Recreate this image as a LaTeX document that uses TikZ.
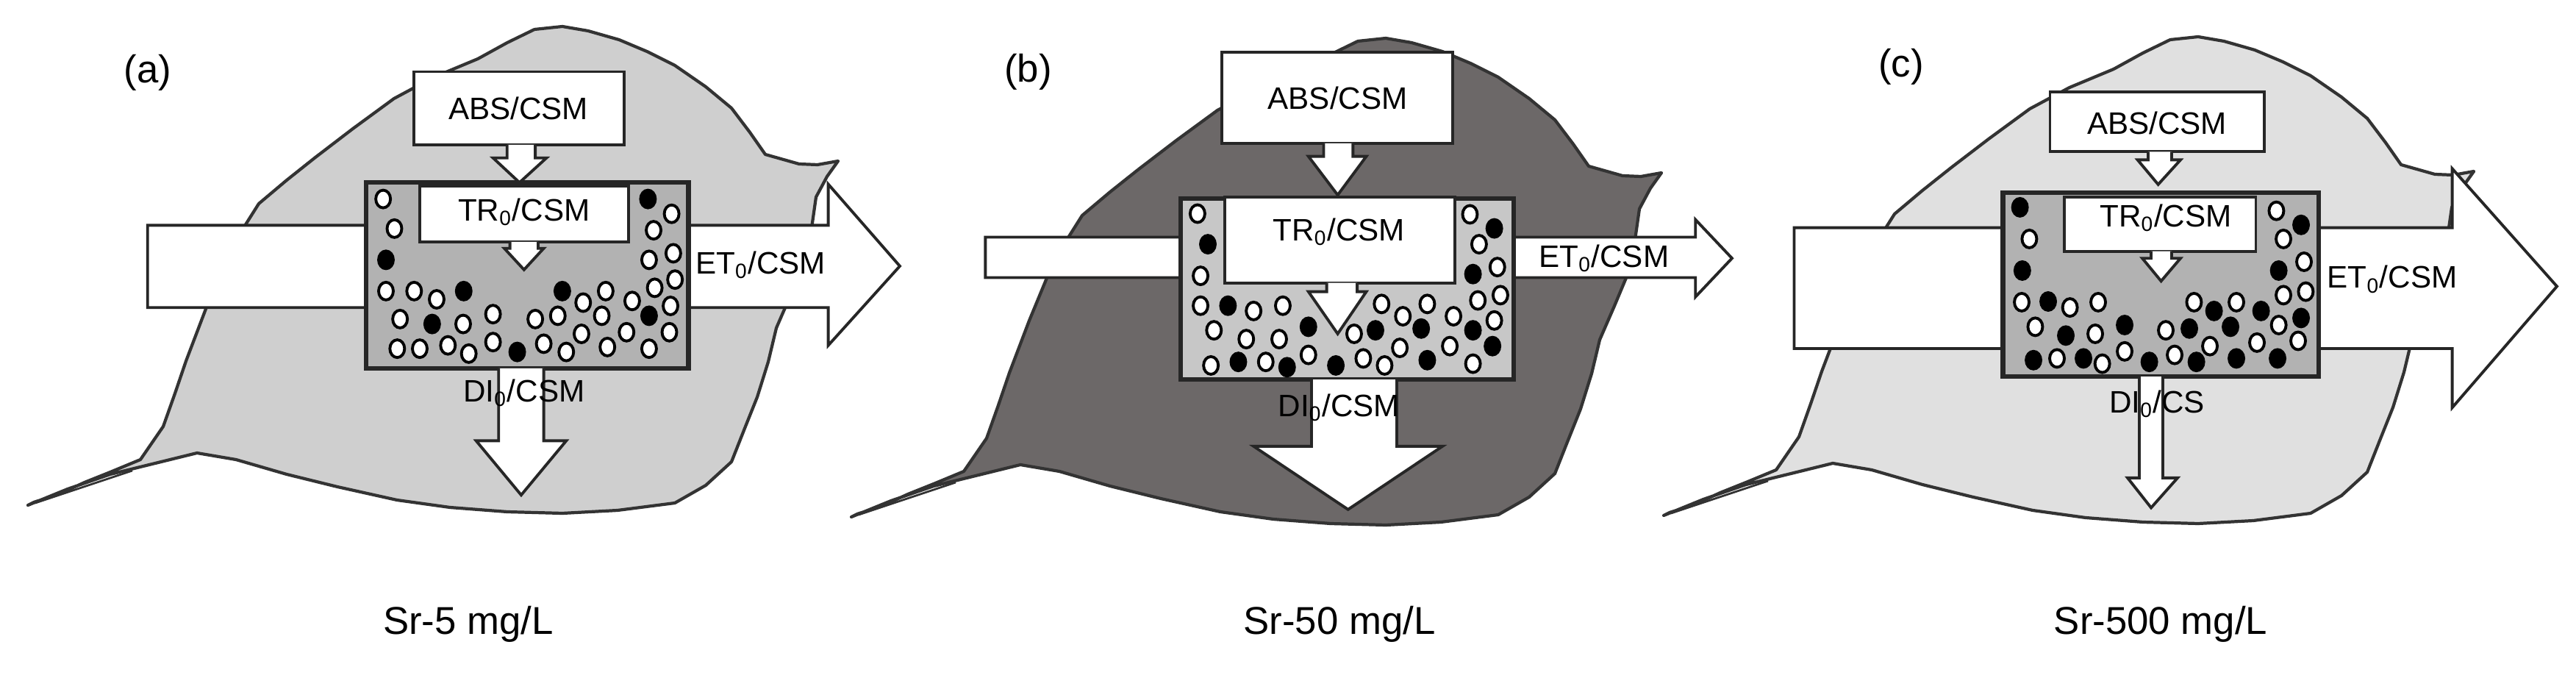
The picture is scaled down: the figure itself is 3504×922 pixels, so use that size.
\documentclass[tikz,border=0pt]{standalone}
\usepackage{fontspec}
\setmainfont{Liberation Sans}
\definecolor{leafdark}{RGB}{108,104,104}
\begin{document}
\begin{tikzpicture}[x=0.01cm,y=-0.01cm,
  leafline/.style={draw=black!80,line width=1.2pt,line join=round},
  blk/.style={draw=black!85,line width=1.1pt,fill=white,line join=miter},
  mbox/.style={draw=black!85,line width=1.8pt},
  odot/.style={draw=black,fill=white,line width=1.1pt},
  fdot/.style={draw=black,fill=black,line width=1.1pt},
  lab/.style={font=\fontsize{12}{14}\selectfont,inner sep=0pt},
  big/.style={font=\fontsize{15}{17}\selectfont,inner sep=0pt},
  pics/leaf/.style={code={
    \draw[leafline,fill=#1] (38,687)--(92,665)--(150,645)--(268,616)--(321,625)--(390,645)--(459,662)--(540,680)--(612,690)--(690,696)--(765,698)--(840,694)--(918,684)--(960,660)--(995,628)--(1012,585)--(1030,540)--(1045,492)--(1056,446)--(1076,400)--(1094,357)--(1104,310)--(1110,268)--(1125,240)--(1140,219)--(1112,224)--(1087,223)--(1041,210)--(1020,180)--(995,147)--(960,118)--(918,89)--(880,70)--(842,54)--(800,42)--(765,36)--(727,40)--(690,58)--(650,80)--(590,105)--(536,134)--(480,175)--(429,214)--(390,245)--(352,277)--(328,315)--(306,357)--(280,420)--(253,491)--(238,535)--(222,580)--(191,625)--(150,642)--(115,656)--(80,672)--(46,683)--cycle;
    \draw[leafline,line width=0.8pt] (48,684)--(120,660)--(180,640);
  }}]
\useasboundingbox (0,0) rectangle (3504,922);

\pic at (0,0) {leaf=black!19};
\pic at (1120,16) {leaf=leafdark};
\pic at (2225,14) {leaf=black!12};

% ---------- panel (a)
\begin{scope}[x=0.007653cm,y=-0.004464cm]
\draw[blk] (262,685)--(1470,685)--(1470,560)--(1597,809)--(1470,1050)--(1470,935)--(262,935)--cycle;
\draw[mbox,fill=black!30] (650,555) rectangle (1222,1120);
\foreach \a/\b in {680/605,700/695,685/885,735/885,775/910,710/970,822/985,875/955,705/1060,745/1060,795/1050,832/1075,875/1040,950/970,990/960,965/1045,1005/1070,1035/920,1075/885,1068/960,1032/1015,1078/1055,1112/1010,1122/915,1152/1060,1160/700,1192/650,1152/790,1195/770,1162/875,1198/850,1190/930,1188/1010}
  \draw[odot] (\a,\b) ellipse [x radius=0.1cm,y radius=0.12cm];
\foreach \a/\b in {1150/605,685/790,823/885,767/985,998/885,918/1070,1152/960}
  \draw[fdot] (\a,\b) ellipse [x radius=0.1cm,y radius=0.12cm];
\draw[blk] (735,218) rectangle (1108,440);
\draw[blk] (900,440)--(900,480)--(875,480)--(922,555)--(970,480)--(950,480)--(950,440);
\draw[blk] (745,565) rectangle (1115,735);
\draw[blk] (905,735)--(905,755)--(895,755)--(930,820)--(965,755)--(955,755)--(955,735);
\draw[blk] (885,1120)--(885,1340)--(845,1340)--(925,1505)--(1005,1340)--(965,1340)--(965,1120);
\node[lab] (absa) at (920,330) {ABS/CSM};
\node[lab] (tra) at (930,645) {TR\textsubscript{0}/CSM};
\node[lab] (eta) at (1350,805) {ET\textsubscript{0}/CSM};
\node[lab] (dia) at (930,1195) {DI\textsubscript{0}/CSM};
\node[big] (la) at (262,220) {(a)};
\end{scope}

% ---------- panel (b)
\begin{scope}[shift={(1100,0)},x=0.00829cm,y=-0.004783cm]
\draw[blk] (290,675)--(1455,675)--(1455,625)--(1515,735)--(1455,845)--(1455,790)--(290,790)--cycle;
\draw[mbox,fill=black!22] (610,565) rectangle (1157,1080);
\foreach \a/\b in {638/608,643/785,643/870,730/885,778/870,665/940,718/965,772/965,660/1040,750/1030,820/1010,910/1020,945/1040,895/950,940/865,975/900,1015/865,970/990,1058/900,1052/985,1090/1035,1085/610,1100/695,1130/760,1098/855,1135/840,1125/912}
  \draw[odot] (\a,\b) ellipse [x radius=0.1cm,y radius=0.12cm];
\foreach \a/\b in {655/695,688/870,820/930,705/1030,785/1045,865/1040,930/940,1005/935,1015/1025,1090/940,1125/650,1090/780,1122/985}
  \draw[fdot] (\a,\b) ellipse [x radius=0.1cm,y radius=0.12cm];
\draw[blk] (678,148) rectangle (1057,408);
\draw[blk] (845,408)--(845,445)--(820,445)--(868,555)--(915,445)--(893,445)--(893,408);
\draw[blk] (683,560) rectangle (1060,805);
\draw[blk] (850,805)--(850,830)--(820,830)--(868,950)--(915,830)--(900,830)--(900,805);
\draw[blk] (825,1080)--(825,1270)--(730,1270)--(885,1450)--(1040,1270)--(965,1270)--(965,1080);
\node[lab] (absb) at (868,280) {ABS/CSM};
\node[lab] (trb) at (870,660) {TR\textsubscript{0}/CSM};
\node[lab] (etb) at (1305,735) {ET\textsubscript{0}/CSM};
\node[lab] (dib) at (870,1160) {DI\textsubscript{0}/CSM};
\node[big] (lb) at (360,205) {(b)};
\end{scope}

% ---------- panel (c)
\begin{scope}[shift={(2250,0)},x=0.007997cm,y=-0.004783cm]
\draw[blk] (238,648)--(1357,648)--(1357,480)--(1535,815)--(1357,1160)--(1357,992)--(238,992)--cycle;
\draw[mbox,fill=black!30] (593,548) rectangle (1130,1072);
\foreach \a/\b in {638/680,625/860,707/875,755/860,648/930,750/950,800/1000,685/1020,762/1035,870/940,885/1010,918/860,945/985,990/860,1025/975,1062/925,1095/970,1070/840,1108/830,1105/745,1070/680,1058/600}
  \draw[odot] (\a,\b) ellipse [x radius=0.1cm,y radius=0.12cm];
\foreach \a/\b in {622/590,626/770,670/858,700/955,800/925,730/1020,645/1025,842/1030,910/935,922/1030,952/885,980/930,990/1020,1032/885,1060/1020,1100/905,1062/770,1100/640}
  \draw[fdot] (\a,\b) ellipse [x radius=0.1cm,y radius=0.12cm];
\draw[blk] (673,262) rectangle (1037,432);
\draw[blk] (840,432)--(840,455)--(822,455)--(857,525)--(895,455)--(880,455)--(880,432);
\draw[blk] (697,560) rectangle (1023,715);
\draw[blk] (845,715)--(845,735)--(830,735)--(862,800)--(895,735)--(880,735)--(880,715);
\draw[blk] (825,1072)--(825,1360)--(805,1360)--(845,1445)--(890,1360)--(865,1360)--(865,1072);
\node[lab] (absc) at (855,350) {ABS/CSM};
\node[lab] (trc) at (870,620) {TR\textsubscript{0}/CSM};
\node[lab] (etc) at (1255,795) {ET\textsubscript{0}/CSM};
\node[lab] (dic) at (855,1150) {DI\textsubscript{0}/CS};
\node[big] (lc) at (420,190) {(c)};
\end{scope}

\node[big] (sa) at (637,849) {Sr-5 mg/L};
\node[big] (sb) at (1822,849) {Sr-50 mg/L};
\node[big] (sc) at (2939,849) {Sr-500 mg/L};
\end{tikzpicture}
\end{document}
